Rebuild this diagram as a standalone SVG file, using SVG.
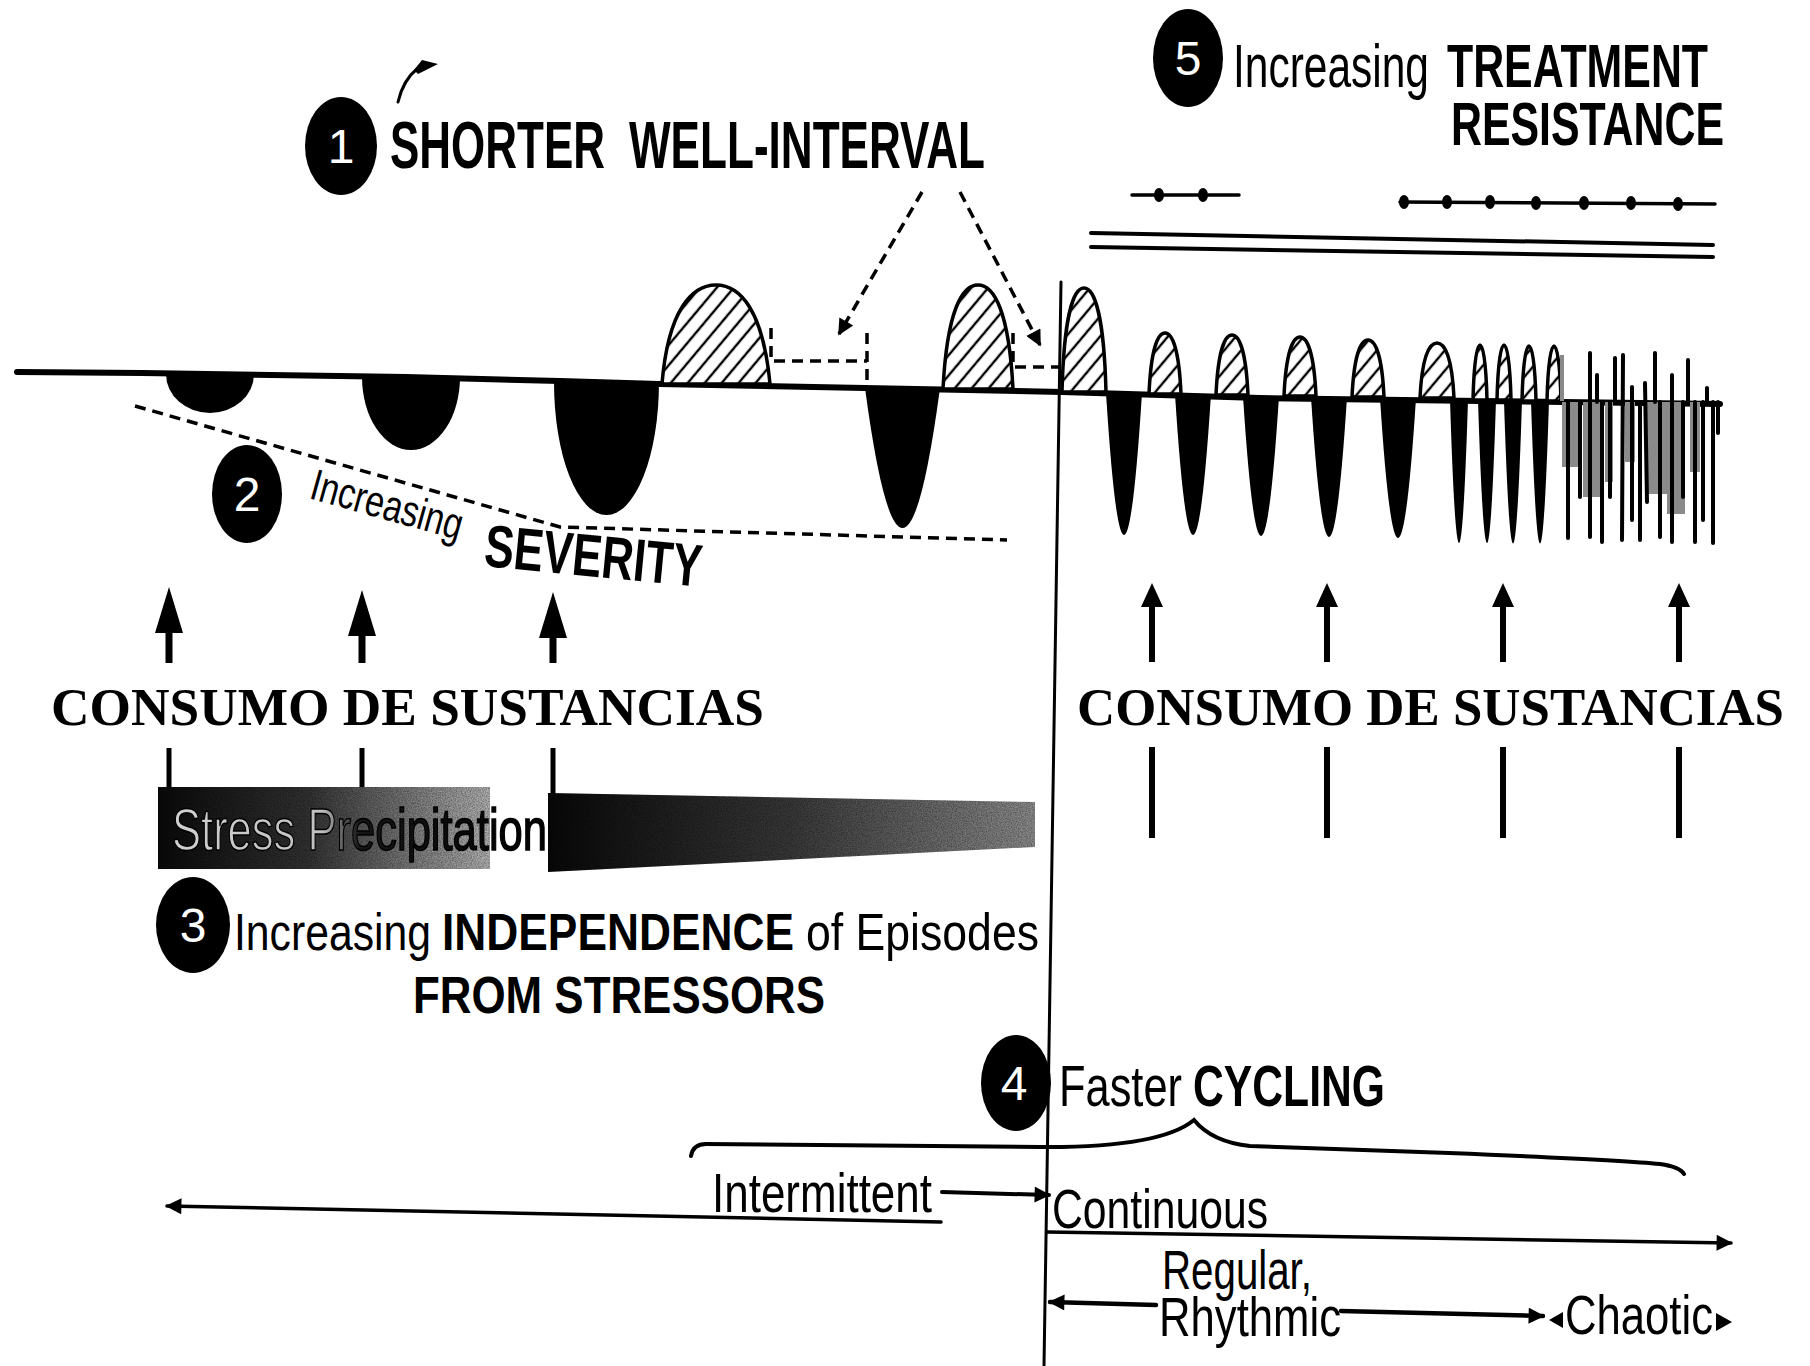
<svg xmlns="http://www.w3.org/2000/svg" width="1810" height="1366" viewBox="0 0 1810 1366">
<style>
.sn{font-family:"Liberation Sans Narrow","Liberation Sans",Arial,sans-serif;fill:#000}
.b{font-weight:bold}
.num{font-family:"Liberation Sans Narrow","Liberation Sans",Arial,sans-serif;fill:#fff;font-size:48px;text-anchor:middle}
.cons{font-family:"Liberation Serif","Times New Roman",serif;font-weight:bold;font-size:53px;fill:#000}
.ln{stroke:#000;fill:none;stroke-linecap:round}
.dash{stroke:#000;fill:none;stroke-width:3.5;stroke-dasharray:11 7}
.hump{fill:url(#hatch);stroke:#000;stroke-width:3.5}
.tr{fill:#000}
.gray{fill:#8a8a8a}
</style>
<defs>
<pattern id="hatch" patternUnits="userSpaceOnUse" width="13" height="13" patternTransform="rotate(40)">
<rect width="13" height="13" fill="#fff"/>
<line x1="6" y1="0" x2="6" y2="13" stroke="#000" stroke-width="2.4"/>
</pattern>
<marker id="ah" viewBox="0 0 10 10" refX="9" refY="5" markerWidth="20" markerHeight="16" markerUnits="userSpaceOnUse" orient="auto">
<path d="M0,0 L10,5 L0,10 Z" fill="#000"/>
</marker>
<linearGradient id="bar1" x1="0" y1="0" x2="1" y2="0">
<stop offset="0" stop-color="#0a0a0a"/>
<stop offset="0.45" stop-color="#333"/>
<stop offset="1" stop-color="#b5b5b5"/>
</linearGradient>
<linearGradient id="bar2" x1="0" y1="0" x2="1" y2="0">
<stop offset="0" stop-color="#080808"/>
<stop offset="0.5" stop-color="#3a3a3a"/>
<stop offset="1" stop-color="#8f8f8f"/>
</linearGradient>
<linearGradient id="stxt" gradientUnits="userSpaceOnUse" x1="172" y1="0" x2="547" y2="0">
<stop offset="0" stop-color="#d0d0d0"/>
<stop offset="0.4" stop-color="#c0c0c0"/>
<stop offset="0.5" stop-color="#151515"/>
<stop offset="1" stop-color="#000"/>
</linearGradient>
<filter id="grain" x="0" y="0" width="1" height="1">
<feTurbulence type="fractalNoise" baseFrequency="0.8" numOctaves="2" seed="3" result="n"/>
<feColorMatrix in="n" type="matrix" values="0 0 0 0 0  0 0 0 0 0  0 0 0 0 0  0 0 0 -1.4 1.0" result="m"/>
<feComposite in="m" in2="SourceGraphic" operator="in"/>
</filter>
</defs>
<rect width="1810" height="1366" fill="#fff"/>

<!-- Vertical divider -->
<g id="divider">
<line class="ln" x1="1061" y1="282" x2="1044" y2="1366" stroke-width="3"/>
</g>

<!-- Waveform -->
<g id="waveform">
<polyline class="ln" stroke-width="6" points="17,372 142,373 406,377 560,381 659,384 865,388 1062,392 1260,398 1480,401 1720,404"/>
<path class="tr" d="M166,374 A44,39 0 0 0 254,374 Z"/>
<path class="tr" d="M362,377 A49,73 0 0 0 460,377 Z"/>
<path class="tr" d="M554,382 A52.5,133 0 0 0 659,382 Z"/>
<path class="tr" d="M865,388 Q902.5,668 940,388 Z"/>
<path class="tr" d="M1106,393 Q1124,677 1142,393 Z"/>
<path class="tr" d="M1175,394 Q1193,676 1211,394 Z"/>
<path class="tr" d="M1243,396 Q1261,676 1279,396 Z"/>
<path class="tr" d="M1311,397 Q1329,677 1347,397 Z"/>
<path class="tr" d="M1380,398 Q1398,678 1416,398 Z"/>
<path class="tr" d="M1450,400 Q1459,686 1468,400 Z"/>
<path class="tr" d="M1478,400 Q1487,686 1496,400 Z"/>
<path class="tr" d="M1504,401 Q1513,686 1522,401 Z"/>
<path class="tr" d="M1531,401 Q1540,686 1549,401 Z"/>
<path class="hump" d="M662,384 C668,310 692,285 716,285 C740,285 763,310 770,384 Z"/>
<path class="hump" d="M943,389 C947,311 962,285 978,285 C994,285 1009,311 1013,389 Z"/>
<path class="hump" d="M1062,392 C1064,314 1074,288 1084,288 C1094,288 1104,314 1106,392 Z"/>
<path class="hump" d="M1149,394 C1151,348 1158,333 1165,333 C1172,333 1179,348 1181,394 Z"/>
<path class="hump" d="M1216,395 C1218,350 1225,335 1232,335 C1239,335 1246,350 1248,395 Z"/>
<path class="hump" d="M1284,396 C1286,352 1293,337 1300,337 C1307,337 1314,352 1316,396 Z"/>
<path class="hump" d="M1352,397 C1354,354 1361,340 1368,340 C1375,340 1382,354 1384,397 Z"/>
<path class="hump" d="M1420,398 C1422,357 1429,343 1437,343 C1445,343 1452,357 1454,398 Z"/>
<path class="hump" stroke-width="3" d="M1473,400 C1474,360 1477,345 1480,345 C1483,345 1486,360 1487,400 Z"/>
<path class="hump" stroke-width="3" d="M1497,400 C1498,360 1501,345 1504,345 C1507,345 1510,360 1511,400 Z"/>
<path class="hump" stroke-width="3" d="M1522,401 C1523,361 1526,346 1529,346 C1532,346 1535,361 1536,401 Z"/>
<path class="hump" stroke-width="3" d="M1547,401 C1548,361 1551,346 1554,346 C1557,346 1560,361 1561,401 Z"/>
<!-- chaotic -->
<rect class="gray" x="1562" y="402" width="16" height="65"/>
<rect class="gray" x="1583" y="402" width="20" height="95"/>
<rect class="gray" x="1605" y="402" width="8" height="80"/>
<rect class="gray" x="1625" y="402" width="10" height="60"/>
<rect class="gray" x="1647" y="402" width="20" height="92"/>
<rect class="gray" x="1667" y="402" width="18" height="112"/>
<rect class="gray" x="1690" y="402" width="10" height="70"/>
<rect class="gray" x="1560" y="355" width="4" height="46"/>
<g class="ln" stroke-width="4">
<line x1="1568" y1="402" x2="1568" y2="538"/>
<line x1="1580" y1="402" x2="1580" y2="497"/>
<line x1="1590" y1="353" x2="1590" y2="537"/>
<line x1="1597" y1="375" x2="1597" y2="402"/>
<line x1="1602" y1="402" x2="1602" y2="542"/>
<line x1="1610" y1="402" x2="1610" y2="497"/>
<line x1="1615" y1="358" x2="1615" y2="402"/>
<line x1="1623" y1="355" x2="1622" y2="540"/>
<line x1="1632" y1="387" x2="1632" y2="520"/>
<line x1="1640" y1="402" x2="1640" y2="540"/>
<line x1="1645" y1="383" x2="1647" y2="502"/>
<line x1="1655" y1="353" x2="1655" y2="402"/>
<line x1="1660" y1="402" x2="1660" y2="537"/>
<line x1="1672" y1="375" x2="1672" y2="542"/>
<line x1="1683" y1="402" x2="1683" y2="497"/>
<line x1="1688" y1="360" x2="1688" y2="402"/>
<line x1="1695" y1="402" x2="1695" y2="542"/>
<line x1="1703" y1="402" x2="1703" y2="520"/>
<line x1="1707" y1="388" x2="1707" y2="402"/>
<line x1="1713" y1="402" x2="1713" y2="543"/>
<line x1="1718" y1="402" x2="1718" y2="433"/>
</g>
</g>

<!-- Connectors / annotation lines -->
<g id="connectors">
<path class="dash" d="M771,328 L771,361 L867,361 M867,333 L867,387"/>
<path class="dash" d="M1013,333 L1013,367 L1060,367"/>
<line class="dash" x1="922" y1="192" x2="839" y2="334" marker-end="url(#ah)"/>
<line class="dash" x1="960" y1="192" x2="1040" y2="345" marker-end="url(#ah)"/>
<polyline class="dash" points="135,406 560,527 1007,540"/>
<path class="ln" stroke-width="3" d="M398,102 Q403,80 418,68"/>
<path d="M414,70 L422,60 L438,64 L426,70 L418,74 Z" fill="#000"/>
<!-- treatment resistance lines -->
<line class="ln" stroke-width="3.5" x1="1132" y1="195" x2="1239" y2="195"/>
<ellipse cx="1159" cy="195" rx="5" ry="7"/>
<ellipse cx="1203" cy="195" rx="5" ry="7"/>
<line class="ln" stroke-width="3.5" x1="1400" y1="202" x2="1715" y2="204"/>
<ellipse cx="1404" cy="202" rx="5" ry="7"/>
<ellipse cx="1447" cy="202" rx="5" ry="7"/>
<ellipse cx="1490" cy="202" rx="5" ry="7"/>
<ellipse cx="1536" cy="203" rx="5" ry="7"/>
<ellipse cx="1584" cy="203" rx="5" ry="7"/>
<ellipse cx="1631" cy="203" rx="5" ry="7"/>
<ellipse cx="1678" cy="204" rx="5" ry="7"/>
<line class="ln" stroke-width="4" x1="1091" y1="233" x2="1713" y2="245"/>
<line class="ln" stroke-width="4" x1="1091" y1="247" x2="1713" y2="257"/>
<!-- stress arrows (left) -->
<g fill="#000">
<path d="M155,633 L169,587 L183,633 Z"/><rect x="165.5" y="630" width="7" height="33"/>
<path d="M348,636 L362,590 L376,636 Z"/><rect x="358.5" y="633" width="7" height="30"/>
<path d="M539,638 L553,592 L567,638 Z"/><rect x="549.5" y="635" width="7" height="28"/>
<rect x="166.5" y="748" width="5" height="41"/>
<rect x="359.5" y="748" width="5" height="43"/>
<rect x="550.5" y="748" width="5" height="46"/>
</g>
<!-- substance arrows (right) -->
<g fill="#000">
<path d="M1141,607 L1152,583 L1163,607 Z"/><rect x="1149" y="605" width="6" height="57"/><rect x="1149" y="747" width="6" height="91"/>
<path d="M1316,607 L1327,583 L1338,607 Z"/><rect x="1324" y="605" width="6" height="57"/><rect x="1324" y="747" width="6" height="91"/>
<path d="M1492,607 L1503,583 L1514,607 Z"/><rect x="1500" y="605" width="6" height="57"/><rect x="1500" y="747" width="6" height="91"/>
<path d="M1668,607 L1679,583 L1690,607 Z"/><rect x="1676" y="605" width="6" height="57"/><rect x="1676" y="747" width="6" height="91"/>
</g>
<!-- brace -->
<path class="ln" stroke-width="4" d="M691,1156 Q693,1144 706,1144 L1040,1147 Q1160,1148 1194,1120 Q1212,1142 1250,1146 L1449,1153 Q1620,1160 1660,1164 Q1680,1167 1684,1174"/>
<!-- timeline arrows -->
<line class="ln" stroke-width="3.5" x1="941" y1="1222" x2="167" y2="1206" marker-end="url(#ah)"/>
<line class="ln" stroke-width="4" x1="942" y1="1192" x2="1049" y2="1195" marker-end="url(#ah)"/>
<line class="ln" stroke-width="3.5" x1="1047" y1="1232" x2="1731" y2="1243" marker-end="url(#ah)"/>
<line class="ln" stroke-width="4.5" x1="1156" y1="1305" x2="1050" y2="1302" marker-end="url(#ah)"/>
<line class="ln" stroke-width="4.5" x1="1341" y1="1311" x2="1543" y2="1316" marker-end="url(#ah)"/>
<path d="M1549,1320 L1563,1312 L1563,1328 Z" fill="#000"/>
<path d="M1732,1322 L1716,1313 L1716,1331 Z" fill="#000"/>
</g>

<!-- Label 1 -->
<g id="n1">
<ellipse cx="341" cy="146" rx="36" ry="49" fill="#000"/>
<text class="num" x="341" y="163">1</text>
<text class="sn b" x="390" y="168" font-size="66" textLength="215" lengthAdjust="spacingAndGlyphs">SHORTER</text>
<text class="sn b" x="629" y="168" font-size="66" textLength="356" lengthAdjust="spacingAndGlyphs">WELL-INTERVAL</text>
</g>

<!-- Label 2 -->
<g id="n2">
<ellipse cx="247" cy="494" rx="35" ry="49" fill="#000"/>
<text class="num" x="247" y="511">2</text>
<text class="sn" x="308" y="498" font-size="44" textLength="156" lengthAdjust="spacingAndGlyphs" transform="rotate(15.6 308 498)">Increasing</text>
<text class="sn b" x="483" y="566" font-size="60" textLength="218" lengthAdjust="spacingAndGlyphs" transform="rotate(5.5 483 566)">SEVERITY</text>
</g>

<!-- Label 3 + stress bar -->
<g id="n3">
<rect x="158" y="787" width="332" height="82" fill="url(#bar1)"/>
<rect x="158" y="787" width="332" height="82" fill="#777" filter="url(#grain)" opacity="0.5"/>
<path d="M548,793 L1035,802 L1035,847 L548,872 Z" fill="url(#bar2)"/>
<path d="M548,793 L1035,802 L1035,847 L548,872 Z" fill="#888" filter="url(#grain)" opacity="0.5"/>
<text class="sn" x="172" y="850" font-size="60" textLength="375" lengthAdjust="spacingAndGlyphs" stroke="#000" stroke-width="1.5" style="fill:url(#stxt)">Stress Precipitation</text>
<ellipse cx="193" cy="925" rx="37" ry="48" fill="#000"/>
<text class="num" x="193" y="942">3</text>
<text class="sn" x="234" y="950" font-size="52" textLength="197" lengthAdjust="spacingAndGlyphs">Increasing</text>
<text class="sn b" x="442" y="950" font-size="52" textLength="352" lengthAdjust="spacingAndGlyphs">INDEPENDENCE</text>
<text class="sn" x="806" y="950" font-size="52" textLength="233" lengthAdjust="spacingAndGlyphs">of Episodes</text>
<text class="sn b" x="413" y="1013" font-size="52" textLength="412" lengthAdjust="spacingAndGlyphs">FROM STRESSORS</text>
</g>

<!-- Label 4 -->
<g id="n4">
<ellipse cx="1016" cy="1083" rx="35" ry="48" fill="#000"/>
<text class="num" x="1014" y="1100">4</text>
<text class="sn" x="1059" y="1106" font-size="58" textLength="123" lengthAdjust="spacingAndGlyphs">Faster</text>
<text class="sn b" x="1193" y="1106" font-size="58" textLength="192" lengthAdjust="spacingAndGlyphs">CYCLING</text>
<text class="sn" x="712" y="1212" font-size="55" textLength="220" lengthAdjust="spacingAndGlyphs">Intermittent</text>
<text class="sn" x="1052" y="1228" font-size="55" textLength="216" lengthAdjust="spacingAndGlyphs">Continuous</text>
<text class="sn" x="1162" y="1289" font-size="55" textLength="150" lengthAdjust="spacingAndGlyphs">Regular,</text>
<text class="sn" x="1159" y="1336" font-size="55" textLength="182" lengthAdjust="spacingAndGlyphs">Rhythmic</text>
<text class="sn" x="1565" y="1334" font-size="55" textLength="148" lengthAdjust="spacingAndGlyphs">Chaotic</text>
</g>

<!-- Label 5 -->
<g id="n5">
<ellipse cx="1188" cy="58" rx="35" ry="49" fill="#000"/>
<text class="num" x="1188" y="75">5</text>
<text class="sn" x="1233" y="87" font-size="62" textLength="196" lengthAdjust="spacingAndGlyphs">Increasing</text>
<text class="sn b" x="1447" y="87" font-size="62" textLength="261" lengthAdjust="spacingAndGlyphs">TREATMENT</text>
<text class="sn b" x="1451" y="145" font-size="62" textLength="273" lengthAdjust="spacingAndGlyphs">RESISTANCE</text>
</g>

<!-- Substance labels -->
<g id="consumo-left">
<text class="cons" x="51" y="725" textLength="713" lengthAdjust="spacingAndGlyphs">CONSUMO DE SUSTANCIAS</text>
</g>
<g id="consumo-right">
<text class="cons" x="1077" y="725" textLength="707" lengthAdjust="spacingAndGlyphs">CONSUMO DE SUSTANCIAS</text>
</g>
</svg>
